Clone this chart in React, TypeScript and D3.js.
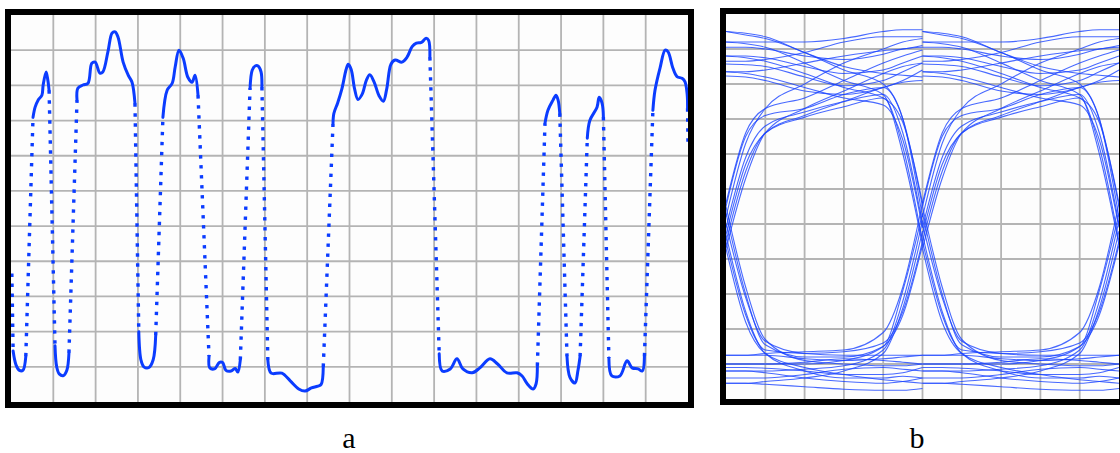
import React from 'react';
import * as d3 from 'd3';

// ---- panel a: single-ended trace, values in screen divisions (16 x 11) ----
const startA: [number, number] = [0.02, 3.65];
const endA: [number, number] = [16.0, 7.3];
// settled / slow parts of the trace; the fast edges between them are sparse samples
const levelsA: [number, number][][] = [
  [[0.05, 1.45], [0.12, 1.05], [0.2, 0.9], [0.28, 0.9], [0.35, 1.3]],
  [[0.52, 8.09], [0.57, 8.38], [0.64, 8.58], [0.73, 8.72], [0.76, 9.01], [0.83, 9.38], [0.87, 9.15], [0.9, 8.86]],
  [[1.04, 1.6], [1.08, 1.0], [1.14, 0.8], [1.24, 0.75], [1.32, 0.9], [1.37, 1.4]],
  [[1.56, 8.58], [1.58, 8.92], [1.7, 9.01], [1.82, 9.06], [1.91, 9.63], [1.99, 9.66], [2.1, 9.35], [2.17, 9.38],
   [2.29, 9.95], [2.39, 10.49], [2.46, 10.52], [2.53, 10.37], [2.65, 9.66], [2.77, 9.29], [2.86, 9.09], [2.93, 8.49]],
  [[3.02, 2.0], [3.07, 1.2], [3.14, 1.0], [3.26, 0.98], [3.36, 1.2], [3.42, 1.9]],
  [[3.59, 8.09], [3.69, 8.86], [3.81, 9.06], [3.88, 9.52], [3.97, 10.0], [4.07, 9.77], [4.18, 9.23], [4.28, 9.09],
   [4.35, 9.29], [4.42, 8.72]],
  [[4.68, 1.3], [4.7, 0.97], [4.82, 0.95], [4.92, 1.12], [5.0, 1.12], [5.08, 0.9], [5.2, 0.88], [5.3, 0.95],
   [5.36, 0.85], [5.42, 1.2]],
  [[5.65, 8.92], [5.7, 9.43], [5.77, 9.55], [5.84, 9.55], [5.91, 9.38], [5.93, 8.95]],
  [[6.07, 1.2], [6.15, 0.82], [6.4, 0.82], [6.6, 0.6], [6.8, 0.37], [6.95, 0.31], [7.1, 0.4], [7.25, 0.45],
   [7.33, 0.5], [7.38, 1.0]],
  [[7.61, 7.9], [7.63, 8.2], [7.72, 8.5], [7.82, 8.9], [7.92, 9.45], [7.97, 9.6], [8.04, 9.45], [8.12, 8.9],
   [8.2, 8.6], [8.3, 8.75], [8.4, 9.15], [8.48, 9.3], [8.58, 9.1], [8.7, 8.7], [8.8, 8.55], [8.88, 8.9],
   [8.98, 9.6], [9.08, 9.72], [9.24, 9.66], [9.36, 9.8], [9.48, 10.1], [9.58, 10.2], [9.7, 10.22], [9.81, 10.34],
   [9.87, 10.28], [9.9, 9.8]],
  [[10.12, 1.37], [10.19, 0.88], [10.38, 0.94], [10.54, 1.23], [10.68, 0.94], [10.9, 0.83], [11.08, 0.97],
   [11.32, 1.23], [11.5, 1.08], [11.72, 0.83], [11.96, 0.83], [12.08, 0.74], [12.2, 0.52], [12.34, 0.37],
   [12.41, 0.52], [12.44, 1.03]],
  [[12.62, 7.92], [12.69, 8.29], [12.81, 8.58], [12.88, 8.72], [12.93, 8.58], [12.97, 8.2]],
  [[13.14, 1.3], [13.21, 0.7], [13.33, 0.54], [13.4, 0.9], [13.45, 1.3]],
  [[13.62, 7.5], [13.68, 8.0], [13.85, 8.38], [13.9, 8.66], [13.97, 8.49], [14.0, 8.1]],
  [[14.13, 1.25], [14.2, 0.74], [14.39, 0.74], [14.56, 1.17], [14.68, 0.97], [14.82, 0.94], [14.92, 0.88], [14.97, 1.3]],
  [[15.17, 8.29], [15.22, 8.86], [15.34, 9.5], [15.46, 10.0], [15.53, 9.95], [15.64, 9.5], [15.74, 9.25],
   [15.86, 9.2], [15.93, 9.1], [15.98, 8.75], [15.99, 8.35]],
];

// ---- panel b: eye diagram, one unit interval (5 div) drawn twice ----
const eyeT = [0, 0.5, 1, 2, 3, 4, 4.5, 5];
const eyeHighHigh = [
  [10.5, 10.45, 10.35, 9.9, 9.5, 9.3, 9.25, 9.2],
  [10.2, 10.2, 10.2, 10.2, 10.3, 10.5, 10.55, 10.55],
  [10.05, 10.05, 10.0, 9.8, 9.7, 9.85, 10.0, 10.05],
  [9.8, 9.8, 9.75, 9.5, 9.3, 9.4, 9.6, 9.8],
  [9.65, 9.65, 9.7, 9.9, 10.2, 10.35, 10.35, 10.35],
  [9.57, 9.55, 9.5, 9.2, 8.95, 9.1, 9.35, 9.6],
  [9.35, 9.35, 9.4, 9.6, 9.8, 9.95, 10.0, 10.1],
  [9.23, 9.2, 9.1, 8.8, 8.7, 8.9, 9.1, 9.4],
];
const eyeRiseHigh = [
  [4.3, 6.3, 7.6, 8.3, 8.8, 9.3, 9.5, 9.6],
  [5.6, 7.6, 8.3, 8.6, 9.1, 9.6, 9.8, 9.97],
  [4.7, 6.7, 7.6, 8.1, 8.5, 8.9, 9.05, 9.1],
  [5.2, 7.3, 8.3, 9.0, 9.6, 10.0, 10.2, 10.3],
];
const eyeHighFall = [
  [10.2, 10.15, 10.05, 9.6, 9.1, 8.7, 7.0, 4.4],
  [9.8, 9.75, 9.65, 9.3, 8.9, 8.6, 7.9, 5.6],
  [9.35, 9.3, 9.2, 8.9, 8.6, 8.4, 7.4, 4.9],
  [10.5, 10.4, 10.3, 9.9, 9.4, 9.0, 8.0, 5.2],
];
const eyeRiseFall = [
  [4.5, 6.5, 7.6, 8.05, 8.35, 8.6, 7.2, 4.5],
  [5.5, 7.5, 8.1, 8.3, 8.7, 8.9, 8.0, 5.5],
  [4.9, 6.9, 7.8, 8.2, 8.5, 8.7, 7.6, 5.0],
];
const eyeLowLow = [
  [1.25, 1.25, 1.25, 1.15, 1.1, 1.15, 1.2, 1.25],
  [1.0, 1.0, 1.0, 1.05, 1.15, 1.1, 1.05, 1.0],
  [0.8, 0.8, 0.75, 0.6, 0.5, 0.45, 0.5, 0.6],
  [0.6, 0.6, 0.6, 0.7, 0.85, 0.9, 0.85, 0.8],
  [0.45, 0.45, 0.42, 0.35, 0.28, 0.25, 0.25, 0.3],
  [0.9, 0.9, 0.88, 0.8, 0.7, 0.7, 0.75, 0.9],
];
const eyeFallLow = [
  [5.5, 3.2, 1.7, 1.1, 1.0, 0.95, 0.95, 1.0],
  [4.3, 2.2, 1.3, 0.9, 0.7, 0.55, 0.5, 0.45],
  [5.0, 2.9, 1.65, 1.3, 1.25, 1.25, 1.25, 1.25],
  [4.7, 2.5, 1.3, 0.8, 0.6, 0.6, 0.65, 0.6],
];
const eyeLowRise = [
  [1.0, 1.0, 1.0, 1.0, 1.1, 1.5, 2.4, 4.4],
  [1.25, 1.25, 1.3, 1.35, 1.4, 1.9, 3.2, 5.6],
  [0.45, 0.45, 0.5, 0.6, 0.8, 1.3, 2.6, 4.8],
  [0.8, 0.8, 0.8, 0.85, 0.95, 1.4, 2.8, 5.1],
];
const eyeFallRise = [
  [5.3, 3.0, 1.55, 1.2, 1.2, 1.5, 3.1, 5.3],
  [4.5, 2.4, 1.4, 1.3, 1.35, 1.6, 2.5, 4.5],
];
const eyeUI = [0, 5];

const BLUE = '#0b3cff';
const GRID = '#b4b4b4';

export default function App() {
  // panel a
  const xA = d3.scaleLinear().domain([0, 16]).range([11, 688]);
  const yA = d3.scaleLinear().domain([0, 11]).range([402, 15]);
  const lineA = d3.line<[number, number]>()
    .x(d => xA(d[0]))
    .y(d => yA(d[1]))
    .curve(d3.curveCatmullRom.alpha(0.5));
  const straightA = d3.line<[number, number]>().x(d => xA(d[0])).y(d => yA(d[1]));

  const edgesA: [number, number][][] = [];
  edgesA.push([startA, levelsA[0][0]]);
  for (let i = 0; i < levelsA.length - 1; i++) {
    const a = levelsA[i], b = levelsA[i + 1];
    edgesA.push([a[a.length - 1], b[0]]);
  }
  const lastA = levelsA[levelsA.length - 1];
  edgesA.push([lastA[lastA.length - 1], endA]);

  // panel b
  const xB = d3.scaleLinear().domain([0, 10]).range([726, 1119]);
  const yB = d3.scaleLinear().domain([0, 11]).range([399, 14]);
  const traces = [
    ...eyeHighHigh, ...eyeRiseHigh, ...eyeHighFall, ...eyeRiseFall,
    ...eyeLowLow, ...eyeFallLow, ...eyeLowRise, ...eyeFallRise,
  ];
  const lineB = (off: number) => d3.line<number>()
    .x((_, i) => xB(eyeT[i] + off))
    .y(d => yB(d))
    .curve(d3.curveMonotoneX);

  return (
    <svg width={1120} height={453} style={{ position: 'absolute', left: 0, top: 0, background: '#fff' }}>
      <defs>
        <clipPath id="clipA"><rect x={11} y={15} width={677} height={387} /></clipPath>
        <clipPath id="clipB"><rect x={726} y={14} width={394} height={385} /></clipPath>
      </defs>

      {/* panel a */}
      <rect x={11} y={15} width={677} height={387} fill="#fdfdfd" />
      <g stroke={GRID} strokeWidth={1.8}>
        {d3.range(1, 16).map(i => (
          <line key={'av' + i} x1={xA(i)} x2={xA(i)} y1={15} y2={402} />
        ))}
        {d3.range(1, 11).map(i => (
          <line key={'ah' + i} x1={11} x2={688} y1={yA(i)} y2={yA(i)} />
        ))}
      </g>
      <g clipPath="url(#clipA)" fill="none" stroke={BLUE}>
        {edgesA.map((e, i) => (
          <path key={'e' + i} d={straightA(e) || ''} strokeWidth={3.4} strokeDasharray="3.4 6.6" />
        ))}
        {levelsA.map((l, i) => (
          <path key={'l' + i} d={lineA(l) || ''} strokeWidth={3} strokeLinejoin="round" strokeLinecap="round" />
        ))}
      </g>
      <rect x={8} y={12} width={683} height={393} fill="none" stroke="#000" strokeWidth={6} />

      {/* panel b */}
      <rect x={726} y={14} width={394} height={385} fill="#fdfdfd" />
      <g stroke={GRID} strokeWidth={1.8}>
        {d3.range(1, 10).map(i => (
          <line key={'bv' + i} x1={xB(i)} x2={xB(i)} y1={14} y2={399} />
        ))}
        {d3.range(1, 11).map(i => (
          <line key={'bh' + i} x1={726} x2={1120} y1={yB(i)} y2={yB(i)} />
        ))}
      </g>
      <g clipPath="url(#clipB)" fill="none" stroke="#1a44ff" strokeWidth={1.1} strokeOpacity={0.8}>
        {eyeUI.map(off =>
          traces.map((t, i) => (
            <path key={off + '-' + i} d={lineB(off)(t) || ''} />
          ))
        )}
      </g>
      <rect x={723} y={11} width={399} height={391} fill="none" stroke="#000" strokeWidth={6} />

      <text x={349} y={448} textAnchor="middle" fontFamily="Liberation Serif" fontSize={30} fill="#000">a</text>
      <text x={917} y={448} textAnchor="middle" fontFamily="Liberation Serif" fontSize={30} fill="#000">b</text>
    </svg>
  );
}
